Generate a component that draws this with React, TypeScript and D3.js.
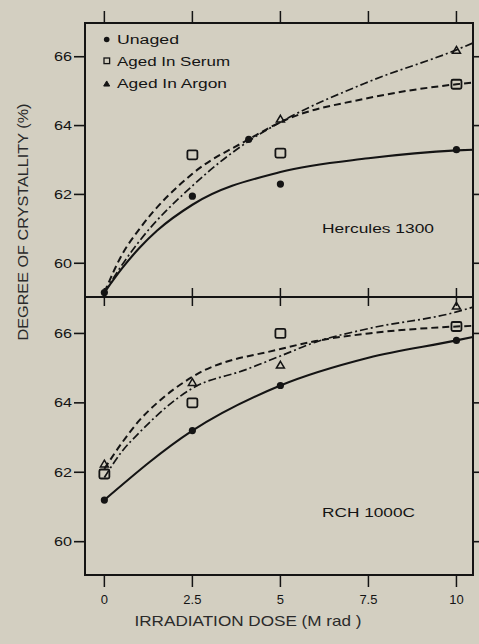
import React from "react";
import * as d3 from "d3";

// ---------- data ----------
const xTicks = [0, 2.5, 5, 7.5, 10];
const xTickLabels = ["0", "2.5", "5", "7.5", "10"];
const yTicks = [60, 62, 64, 66];
const yTickLabels = ["60", "62", "64", "66"];
const seriesNames = ["Unaged", "Aged In Serum", "Aged In Argon"];

// Hercules 1300 (top panel) measured points
const topUnaged: [number, number][] = [[0, 59.15], [2.5, 61.95], [4.1, 63.6], [5, 62.3], [10, 63.3]];
const topSerum: [number, number][] = [[2.5, 63.15], [5, 63.2], [10, 65.2]];
const topArgon: [number, number][] = [[5, 64.2], [10, 66.2]];
// Hercules 1300 fitted curves
const topUnagedFit: [number, number][] = [[0, 59.15], [0.5, 59.85], [1, 60.45], [1.5, 60.95], [2.5, 61.7], [5, 62.65], [7.5, 63.05], [10, 63.28], [10.47, 63.3]];
const topSerumFit: [number, number][] = [[0, 59.15], [0.5, 60.25], [1, 61.0], [2.5, 62.6], [4.1, 63.6], [5, 64.1], [7.5, 64.8], [10, 65.2], [10.47, 65.25]];
const topArgonFit: [number, number][] = [[0, 59.15], [0.5, 59.95], [1, 60.65], [2.5, 62.25], [4.1, 63.55], [5, 64.1], [7.5, 65.27], [10, 66.2], [10.47, 66.4]];

// RCH 1000C (bottom panel) measured points
const botUnaged: [number, number][] = [[0, 61.2], [2.5, 63.2], [5, 64.5], [10, 65.8]];
const botSerum: [number, number][] = [[0, 61.95], [2.5, 64.0], [5, 66.0], [10, 66.2]];
const botArgon: [number, number][] = [[0, 62.25], [2.5, 64.6], [5, 65.1], [10, 66.8]];
// RCH 1000C fitted curves
const botUnagedFit: [number, number][] = [[0, 61.2], [2.5, 63.2], [5, 64.5], [7.5, 65.3], [10, 65.8], [10.47, 65.9]];
const botSerumFit: [number, number][] = [[0, 62.1], [0.5, 62.85], [1, 63.5], [1.5, 64.0], [2.5, 64.75], [5, 65.55], [6, 65.78], [7.5, 66.0], [10, 66.2], [10.47, 66.22]];
const botArgonFit: [number, number][] = [[0, 61.85], [0.5, 62.6], [1, 63.15], [2.5, 64.42], [4, 64.95], [5, 65.35], [6, 65.75], [7.5, 66.14], [10, 66.62], [10.47, 66.76]];

// ---------- layout ----------
const W = 479;
const H = 644;
const L = 85, R = 473, T = 23, M = 297, B = 575;
const INK = "#141414";
const BG = "#d3cfc1";
const FONT = "'Liberation Sans', Arial, Helvetica, sans-serif";

const x = d3.scaleLinear().domain([-0.55, 10.47]).range([L, R]);
const yTop = d3.scaleLinear().domain([59.02, 66.98]).range([M, T]);
const yBot = d3.scaleLinear().domain([59.04, 67.05]).range([B, M]);

const DASH = "7,4";
const DASHDOT = "8,3,2,3";

function Circle({ cx, cy, r = 3.6 }: { cx: number; cy: number; r?: number }) {
  return <circle cx={cx} cy={cy} r={r} fill={INK} />;
}
function Square({ cx, cy, s = 10 }: { cx: number; cy: number; s?: number }) {
  return <rect x={cx - s / 2} y={cy - s / 2 + 0.5} width={s} height={s - 1} rx={1.5} fill="none" stroke={INK} strokeWidth={1.8} />;
}
function Tri({ cx, cy, s = 8, filled = false }: { cx: number; cy: number; s?: number; filled?: boolean }) {
  const h = s * 0.85;
  const p = `M${cx},${cy - h / 2} L${cx + s / 2},${cy + h / 2} L${cx - s / 2},${cy + h / 2} Z`;
  return <path d={p} fill={filled ? INK : "none"} stroke={INK} strokeWidth={filled ? 1 : 1.5} />;
}

function Panel({ y, top, fits, unaged, serum, argon, label, clipId }: any) {
  const line = d3.line<[number, number]>().x((d) => x(d[0])).y((d) => y(d[1])).curve(d3.curveMonotoneX);
  const y0 = top ? T : M;
  const y1 = top ? M : B;
  return (
    <g>
      <defs>
        <clipPath id={clipId}>
          <rect x={L} y={y0} width={R - L} height={y1 - y0} />
        </clipPath>
      </defs>
      <g clipPath={`url(#${clipId})`}>
        <path d={line(fits[0]) || ""} fill="none" stroke={INK} strokeWidth={2.1} />
        <path d={line(fits[1]) || ""} fill="none" stroke={INK} strokeWidth={2} strokeDasharray={DASH} />
        <path d={line(fits[2]) || ""} fill="none" stroke={INK} strokeWidth={1.7} strokeDasharray={DASHDOT} />
      </g>
      {unaged.map((d: [number, number], i: number) => (
        <Circle key={"u" + i} cx={x(d[0])} cy={y(d[1])} />
      ))}
      {serum.map((d: [number, number], i: number) => (
        <Square key={"s" + i} cx={x(d[0])} cy={y(d[1])} />
      ))}
      {argon.map((d: [number, number], i: number) => (
        <Tri key={"a" + i} cx={x(d[0])} cy={y(d[1])} />
      ))}
      {yTicks.map((t, i) => (
        <g key={"yt" + i}>
          <line x1={L - 11} x2={L} y1={y(t)} y2={y(t)} stroke={INK} strokeWidth={1.6} />
          <line x1={R} x2={R + 6} y1={y(t)} y2={y(t)} stroke={INK} strokeWidth={1.6} />
          <text x={72} y={y(t)} dy="0.35em" textAnchor="end" fontSize={12.5} fill={INK} fontFamily={FONT} textLength={18} lengthAdjust="spacingAndGlyphs">
            {yTickLabels[i]}
          </text>
        </g>
      ))}
      <text x={322} y={top ? 233 : 517} fontSize={12.5} fill={INK} fontFamily={FONT} textLength={top ? 112 : 93} lengthAdjust="spacingAndGlyphs">
        {label}
      </text>
    </g>
  );
}

export default function App() {
  return (
    <svg width={W} height={H} style={{ position: "absolute", left: 0, top: 0, display: "block" }} fontFamily={FONT}>
      <rect x={0} y={0} width={W} height={H} fill={BG} />
      <Panel y={yTop} top={true} fits={[topUnagedFit, topSerumFit, topArgonFit]} unaged={topUnaged} serum={topSerum} argon={topArgon} label="Hercules 1300" clipId="clipTop" />
      <Panel y={yBot} top={false} fits={[botUnagedFit, botSerumFit, botArgonFit]} unaged={botUnaged} serum={botSerum} argon={botArgon} label="RCH 1000C" clipId="clipBot" />
      <rect x={L} y={T} width={R - L} height={B - T} fill="none" stroke={INK} strokeWidth={2} />
      <line x1={L} x2={R} y1={M} y2={M} stroke={INK} strokeWidth={2} />
      {xTicks.map((t, i) => (
        <g key={"xt" + i}>
          <line x1={x(t)} x2={x(t)} y1={T - 12} y2={T} stroke={INK} strokeWidth={1.5} />
          <line x1={x(t)} x2={x(t)} y1={M - 9} y2={M + 9} stroke={INK} strokeWidth={1.5} />
          <line x1={x(t)} x2={x(t)} y1={B} y2={B + 12} stroke={INK} strokeWidth={1.5} />
          <text x={x(t)} y={604} textAnchor="middle" fontSize={13} fill={INK}>
            {xTickLabels[i]}
          </text>
        </g>
      ))}
      <g>
        <Circle cx={106.7} cy={39.5} r={2.8} />
        <rect x={104} y={58} width={5.6} height={5.6} fill="none" stroke={INK} strokeWidth={1.3} />
        <Tri cx={106.7} cy={83.5} s={6} filled={true} />
        {seriesNames.map((n, i) => (
          <text key={n} x={117} y={39.5 + i * 22} dy="0.35em" fontSize={12.5} fill={INK} textLength={[62, 113, 110][i]} lengthAdjust="spacingAndGlyphs">
            {n}
          </text>
        ))}
      </g>
      <text transform="translate(23,222) rotate(-90)" textAnchor="middle" dy="0.35em" fontSize={15} fill="#2a2a2a" textLength={237} lengthAdjust="spacingAndGlyphs">
        DEGREE OF CRYSTALLITY (%)
      </text>
      <text x={248} y={626} textAnchor="middle" fontSize={15} fill="#2a2a2a" textLength={227} lengthAdjust="spacingAndGlyphs">
        IRRADIATION DOSE (M rad )
      </text>
    </svg>
  );
}
